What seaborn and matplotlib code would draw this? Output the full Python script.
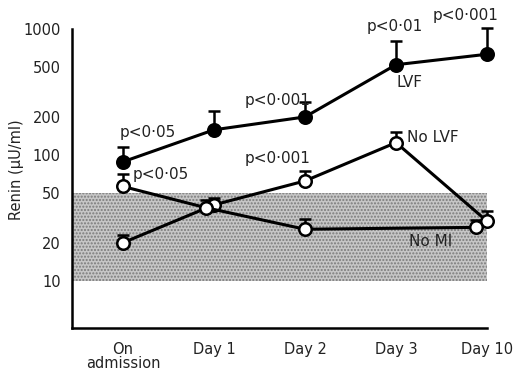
import numpy as np
import pandas as pd
import matplotlib
matplotlib.use("Agg")
import matplotlib.pyplot as plt
import seaborn as sns

# ---- data ----
categories = ["On\nadmission", "Day 1", "Day 2", "Day 3", "Day 10"]
lvf_mean = [88, 158, 200, 520, 630]
lvf_upper = [116, 221, 261, 800, 1015]
nolvf_mean = [20, 40, 62, 125, 29.7]
nolvf_upper = [23, 45, 74, 153, 35.6]
nomi_mean = [56, 38, 25.6, np.nan, 26.5]
nomi_upper = [70, 44, 31, np.nan, 30.5]
normal_range = (10, 50)
y_ticks = [10, 20, 50, 100, 200, 500, 1000]

# annotations: (text, category index pos, value)
annotations = [
    ("p<0\u00b705", -0.04, 151),
    ("p<0\u00b705", 0.11, 70),
    ("p<0\u00b7001", 1.34, 272),
    ("p<0\u00b7001", 1.34, 94),
    ("p<0\u00b701", 2.68, 1040),
    ("p<0\u00b7001", 3.40, 1290),
    ("LVF", 3.01, 379),
    ("No LVF", 3.12, 138),
    ("No MI", 3.14, 20.5),
]

sns.set_style("white")
plt.rcParams['font.family'] = ['DejaVu Sans']

fig = plt.figure(figsize=(5.2, 3.71), dpi=100)
ax = fig.add_axes([72/520, 1-328/371, 415/520, 299/371])

x = np.arange(len(categories), dtype=float)
nomi_dodge = np.array([0, -0.09, 0, 0, -0.12])

ax.axhspan(normal_range[0], normal_range[1], facecolor='#c6c6c6', hatch='.....',
           edgecolor='#7a7a7a', linewidth=0, zorder=0)

def draw(xs, mean, upper, face):
    mean = np.asarray(mean, float); upper = np.asarray(upper, float)
    m = ~np.isnan(mean)
    df = pd.DataFrame({"x": xs[m], "y": mean[m]})
    ax.errorbar(xs[m], mean[m], yerr=[np.zeros(m.sum()), upper[m]-mean[m]],
                fmt='none', ecolor='black', elinewidth=1.8, capsize=4, capthick=1.8,
                zorder=2, clip_on=False)
    sns.lineplot(data=df, x="x", y="y", ax=ax, color='black', linewidth=2.2,
                 marker='o', markersize=9, markerfacecolor=face,
                 markeredgecolor='black', markeredgewidth=1.8, zorder=3,
                 clip_on=False, sort=False)

draw(x, lvf_mean, lvf_upper, 'black')
draw(x, nolvf_mean, nolvf_upper, 'white')
draw(x + nomi_dodge, nomi_mean, nomi_upper, 'white')

ax.set_yscale('log')
ax.set_ylim(4.2, 1000)
ax.set_xlim(-0.56, 4.0)
ax.set_yticks(y_ticks)
ax.set_yticklabels([str(v) for v in y_ticks])
ax.minorticks_off()
ax.set_xticks(x)
ax.set_xticklabels(categories, linespacing=0.95)
ax.tick_params(axis='both', direction='out', length=5, width=1.8, labelsize=10.5,
               color='black', labelcolor='#222222')
ax.tick_params(axis='x', pad=5)
ax.tick_params(axis='y', pad=3)
ax.set_xlabel("")
ax.set_ylabel("Renin (\u03bcU/ml)", fontsize=10.5, color='#222222')
ax.yaxis.set_label_coords(-0.115, 0.53)
for s in ['top', 'right']:
    ax.spines[s].set_visible(False)
for s in ['left', 'bottom']:
    ax.spines[s].set_linewidth(1.8)
    ax.spines[s].set_color('black')

for txt, xp, yp in annotations:
    ax.text(xp, yp, txt, fontsize=11, ha='left', va='center', color='#222222',
            clip_on=False)

fig.savefig("out.png", dpi=100)
